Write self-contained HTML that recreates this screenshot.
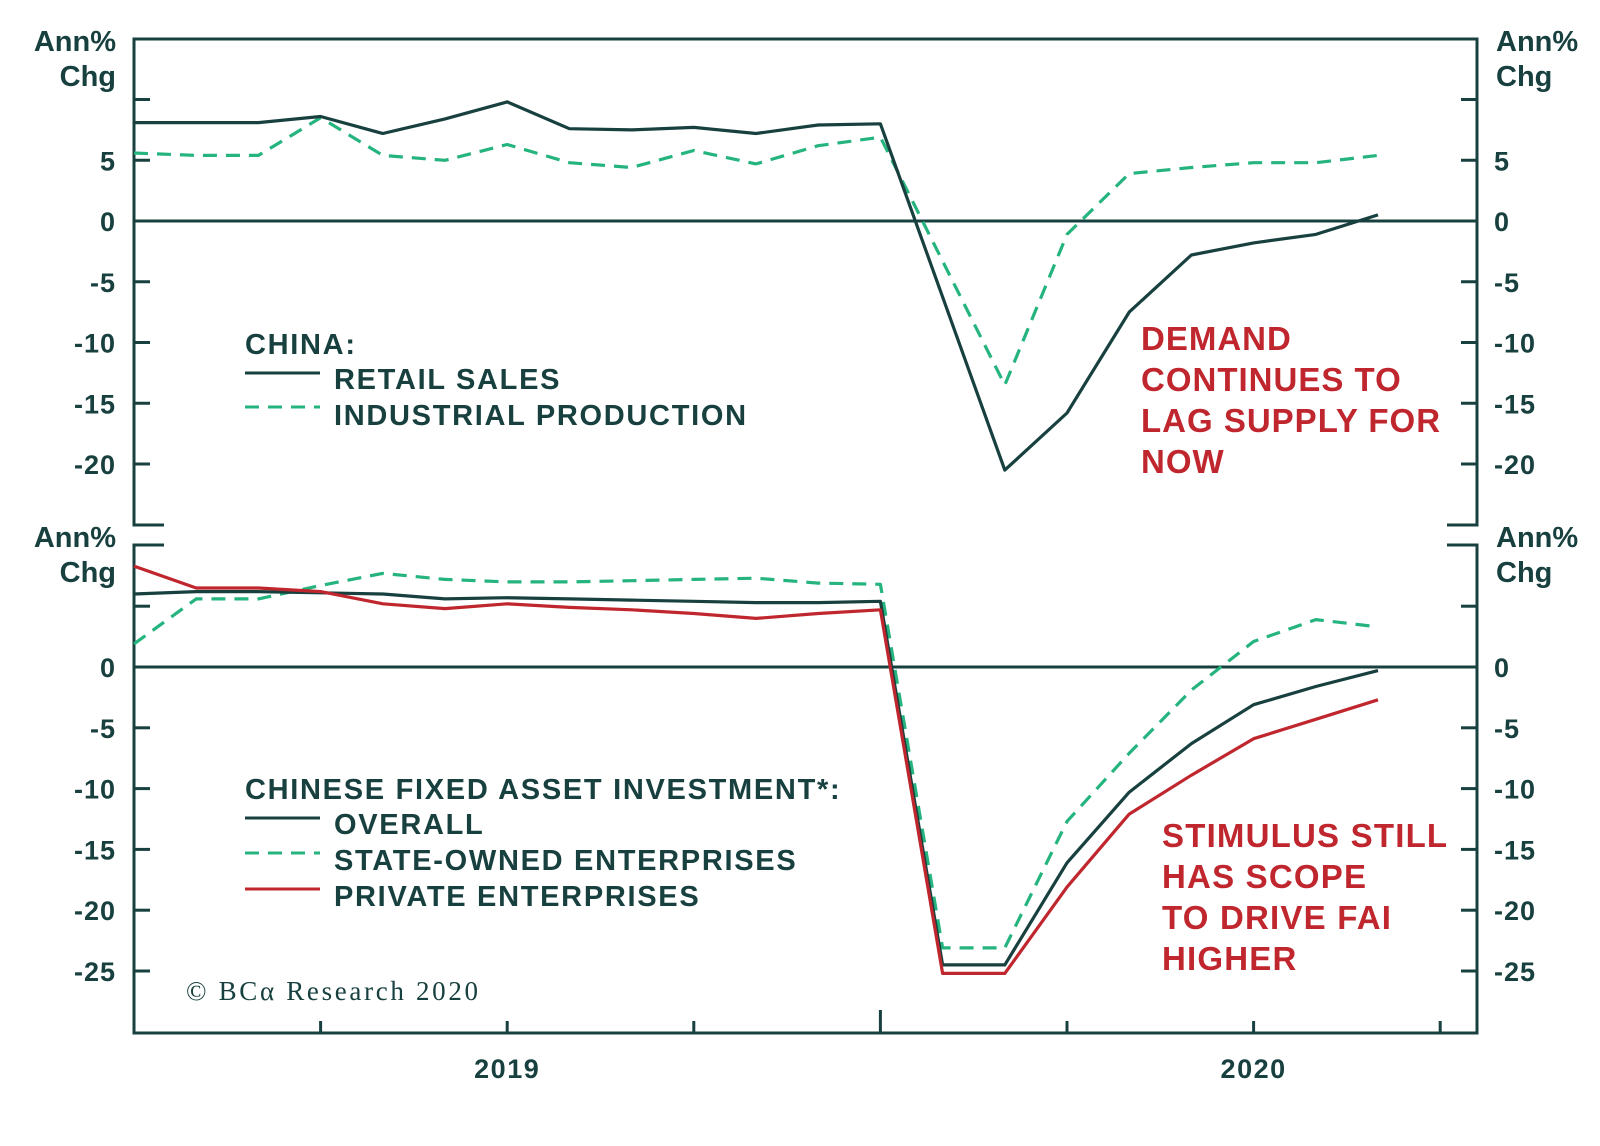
<!DOCTYPE html>
<html><head><meta charset="utf-8"><style>
html,body{margin:0;padding:0;background:#fff;width:1600px;height:1146px;overflow:hidden}
svg{display:block}
text{font-family:"Liberation Sans",sans-serif;font-weight:bold}
</style></head><body>
<svg id="chart" width="1600" height="1146" viewBox="0 0 1600 1146" xmlns="http://www.w3.org/2000/svg">
<g id="frame"></g>
<g id="marks"></g>
<g id="labels"></g>
</svg>
<script>
// month index 0 = Oct 2018 ... 20 = Jun 2020 (null = no data)
const retailSales = [8.1,8.1,8.1,8.6,7.2,8.4,9.8,7.6,7.5,7.7,7.2,7.9,8.0,null,-20.5,-15.8,-7.5,-2.8,-1.8,-1.1,0.5];
const industrialProd = [5.6,5.4,5.4,8.5,5.4,5.0,6.3,4.8,4.4,5.8,4.7,6.2,6.9,null,-13.5,-1.1,3.9,4.4,4.8,4.8,5.4];
const faiOverall = [6.0,6.2,6.2,6.1,6.0,5.6,5.7,5.6,5.5,5.4,5.3,5.3,5.4,-24.5,-24.5,-16.1,-10.3,-6.3,-3.1,-1.6,-0.3];
const faiSOE = [1.9,5.6,5.6,6.7,7.7,7.2,7.0,7.0,7.1,7.2,7.3,6.9,6.8,-23.1,-23.1,-12.7,-7.1,-1.9,2.1,3.9,3.3];
const faiPrivate = [8.3,6.5,6.5,6.2,5.2,4.8,5.2,4.9,4.7,4.4,4.0,4.4,4.7,-25.2,-25.2,-18.1,-12.1,-8.9,-5.9,-4.3,-2.7];
const topTicks = [10,5,0,-5,-10,-15,-20];
const topTickLabels = ["","5","0","-5","-10","-15","-20"];
const botTicks = [5,0,-5,-10,-15,-20,-25];
const botTickLabels = ["","0","-5","-10","-15","-20","-25"];
const xTickMonths = [3,6,9,12,15,18,21];
const xYearLabels = ["2019","2020"];
const xYearMonths = [6,18];

const NS="http://www.w3.org/2000/svg";
const DARK="#17403f", GREEN="#25b47e", RED="#c0262d";
const L=134, R=1477, STEP=62.2;
const x=i=>L+i*STEP;
const yTop=v=>221-v*12.15;
const yBot=v=>667-v*12.16;
function mk(tag,attrs,parent){const e=document.createElementNS(NS,tag);for(const k in attrs)e.setAttribute(k,attrs[k]);parent.appendChild(e);return e;}
const frame=document.getElementById('frame'),marks=document.getElementById('marks'),labels=document.getElementById('labels');
const ln={stroke:DARK,'stroke-width':3,fill:'none'};

let p=mk('path',Object.assign({d:`M${L+30} 525 H${L} V39 H${R} V525 H${R-30}`},ln),frame);

p=mk('path',Object.assign({d:`M${L+30} 545 H${L} V1033 H${R} V545 H${R-30}`},ln),frame);

p=mk('line',Object.assign({x1:L,x2:R,y1:yTop(0),y2:yTop(0)},ln),frame);

p=mk('line',Object.assign({x1:L,x2:R,y1:yBot(0),y2:yBot(0)},ln),frame);


function yTicks(ticks,tl,yf,name){
  ticks.forEach((v,k)=>{
    const y=yf(v);
    if(v!==0){
      let t=mk('line',Object.assign({x1:L,x2:L+16,y1:y,y2:y},ln),frame);
      
      t=mk('line',Object.assign({x1:R-16,x2:R,y1:y,y2:y},ln),frame);
      
    }
    if(tl[k]!==""){
      let a=mk('text',{x:116,y:y+10,'text-anchor':'end','font-size':27,fill:DARK,'letter-spacing':1},labels);a.textContent=tl[k];
      
      a=mk('text',{x:1494,y:y+10,'text-anchor':'start','font-size':27,fill:DARK,'letter-spacing':1},labels);a.textContent=tl[k];
      
    }
  });
}
yTicks(topTicks,topTickLabels,yTop,'top-y');
yTicks(botTicks,botTickLabels,yBot,'bottom-y');

xTickMonths.forEach(m=>{
  const h=(m===12)?23:12;
  const t=mk('line',Object.assign({x1:x(m),x2:x(m),y1:1033,y2:1033-h},ln),frame);
  
});
xYearLabels.forEach((s,k)=>{
  const t=mk('text',{x:x(xYearMonths[k]),y:1078,'text-anchor':'middle','font-size':27,fill:DARK,'letter-spacing':1.5},labels);t.textContent=s;
  
});
[[116,'end',51,86],[1496,'start',51,86],[116,'end',547,582],[1496,'start',547,582]].forEach(([xx,an,y1,y2])=>{
  let t=mk('text',{x:xx,y:y1,'text-anchor':an,'font-size':29,fill:DARK},labels);t.textContent='Ann%';
  
  t=mk('text',{x:xx,y:y2,'text-anchor':an,'font-size':29,fill:DARK},labels);t.textContent='Chg';
  
});

function series(data,yf,color,dash,name){
  let d='',pen=false;
  data.forEach((v,i)=>{
    if(v===null)return;
    d+=(pen?'L':'M')+x(i).toFixed(1)+' '+yf(v).toFixed(1)+' ';pen=true;
  });
  const a={d:d,stroke:color,'stroke-width':3.2,fill:'none','stroke-linejoin':'round'};
  if(dash)a['stroke-dasharray']='14 9';
  const e=mk('path',a,marks);
  
}
series(industrialProd,yTop,GREEN,true,'industrial-production-line');
series(retailSales,yTop,DARK,false,'retail-sales-line');
series(faiSOE,yBot,GREEN,true,'soe-fai-line');
series(faiOverall,yBot,DARK,false,'overall-fai-line');
series(faiPrivate,yBot,RED,false,'private-fai-line');

function txt(s,xx,y,size,color,name,ls,family,tlen){
  const t=mk('text',{x:xx,y:y,'font-size':size,fill:color},labels);t.textContent=s;
  if(ls)t.setAttribute('letter-spacing',ls);
  if(family)t.setAttribute('style','font-family:'+family+';font-weight:normal');
  if(tlen){t.setAttribute('textLength',tlen);t.setAttribute('lengthAdjust','spacing');}
  
}
function key(y,color,dash,name){
  const a={x1:245,x2:320,y1:y,y2:y,stroke:color,'stroke-width':3};
  if(dash)a['stroke-dasharray']='14 9';
  const e=mk('line',a,labels);
}
const LS=1.7;
txt('CHINA:',245,354,29,DARK,'legend-title',LS);
key(373,DARK,false,'legend-retail-key');txt('RETAIL SALES',334,389,29,DARK,'legend-retail-label',LS);
key(407,GREEN,true,'legend-ip-key');txt('INDUSTRIAL PRODUCTION',334,425,29,DARK,'legend-ip-label',LS);
['DEMAND','CONTINUES TO','LAG SUPPLY FOR','NOW'].forEach((s,k)=>txt(s,1141,350+k*41,33,RED,'top-annotation',1));
txt('CHINESE FIXED ASSET INVESTMENT*:',245,799,29,DARK,'bottom-legend-title',LS);
key(818,DARK,false,'legend-overall-key');txt('OVERALL',334,834,29,DARK,'legend-overall-label',LS);
key(853,GREEN,true,'legend-soe-key');txt('STATE-OWNED ENTERPRISES',334,870,29,DARK,'legend-soe-label',LS);
key(889,RED,false,'legend-private-key');txt('PRIVATE ENTERPRISES',334,906,29,DARK,'legend-private-label',LS);
['STIMULUS STILL','HAS SCOPE','TO DRIVE FAI','HIGHER'].forEach((s,k)=>txt(s,1162,847+k*41,33,RED,'bottom-annotation',1.2));
txt('© BCα Research 2020',186,1000,27,DARK,'copyright',null,'"Liberation Serif",serif',292);
</script>
</body></html>
